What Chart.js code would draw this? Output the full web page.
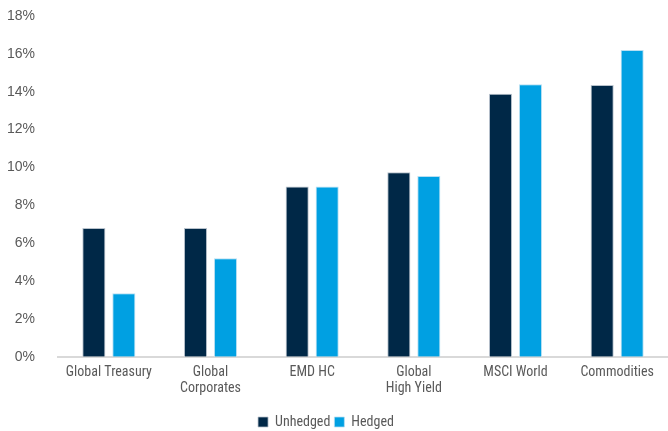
<!DOCTYPE html>
<html>
<head>
<meta charset="utf-8">
<script src="https://cdn.jsdelivr.net/npm/chart.js@4"></script>
<style>
  html, body { margin: 0; padding: 0; background: #fff; }
  canvas { display: block; }
</style>
</head>
<body>
<canvas id="chart" width="668" height="431"></canvas>
<script>
// Data
const categories = ['Global Treasury', ['Global', 'Corporates'], 'EMD HC', ['Global', 'High Yield'], 'MSCI World', 'Commodities'];
const unhedged = [6.8, 6.8, 9.0, 9.75, 13.9, 14.35];
const hedged = [3.35, 5.2, 9.0, 9.55, 14.4, 16.2];
const yTicks = [0, 2, 4, 6, 8, 10, 12, 14, 16, 18];

const FONT = "'Liberation Sans Narrow', 'Roboto Condensed', 'DejaVu Sans Condensed', sans-serif";
const YFONT = "'Liberation Sans', Arial, sans-serif";
const TEXT = '#595959';

const ctx = document.getElementById('chart').getContext('2d');
new Chart(ctx, {
    type: 'bar',
    data: {
        labels: categories,
        datasets: [
            {
                label: 'Unhedged',
                data: unhedged,
                backgroundColor: '#002847',
                borderColor: '#b8c2cc',
                borderWidth: { top: 1, left: 1, right: 1, bottom: 0 },
                categoryPercentage: 0.59,
                barPercentage: 0.77
            },
            {
                label: 'Hedged',
                data: hedged,
                backgroundColor: '#00a0e2',
                borderColor: '#b8dff2',
                borderWidth: { top: 1, left: 1, right: 1, bottom: 0 },
                categoryPercentage: 0.59,
                barPercentage: 0.77
            }
        ]
    },
    options: {
        responsive: false,
        animation: false,
        layout: { padding: { top: 0, left: -16, right: 0, bottom: -8 } },
        plugins: {
            tooltip: { enabled: false },
            legend: {
                position: 'bottom',
                labels: {
                    color: TEXT,
                    font: { family: FONT, size: 14 },
                    boxWidth: 10,
                    boxHeight: 10,
                    padding: 4
                }
            }
        },
        scales: {
            x: {
                // extra room between the category labels and the legend
                afterFit: axis => { axis.height += 6; },
                grid: { display: false, drawTicks: false },
                border: { display: true, color: '#d9d9d9', width: 2 },
                ticks: {
                    color: TEXT,
                    font: { family: FONT, size: 14, lineHeight: 1.15 },
                    padding: 8,
                    maxRotation: 0
                }
            },
            y: {
                min: 0,
                max: 18,
                afterBuildTicks: axis => { axis.ticks = yTicks.map(v => ({ value: v })); },
                // keep the top of the plot close to the canvas edge
                afterFit: axis => { axis.paddingTop = 16; axis.paddingBottom = 0; },
                grid: { display: false, drawTicks: false },
                border: { display: false },
                ticks: {
                    color: TEXT,
                    font: { family: YFONT, size: 14 },
                    padding: 23,
                    callback: v => v + '%'
                }
            }
        }
    }
});
</script>
</body>
</html>
